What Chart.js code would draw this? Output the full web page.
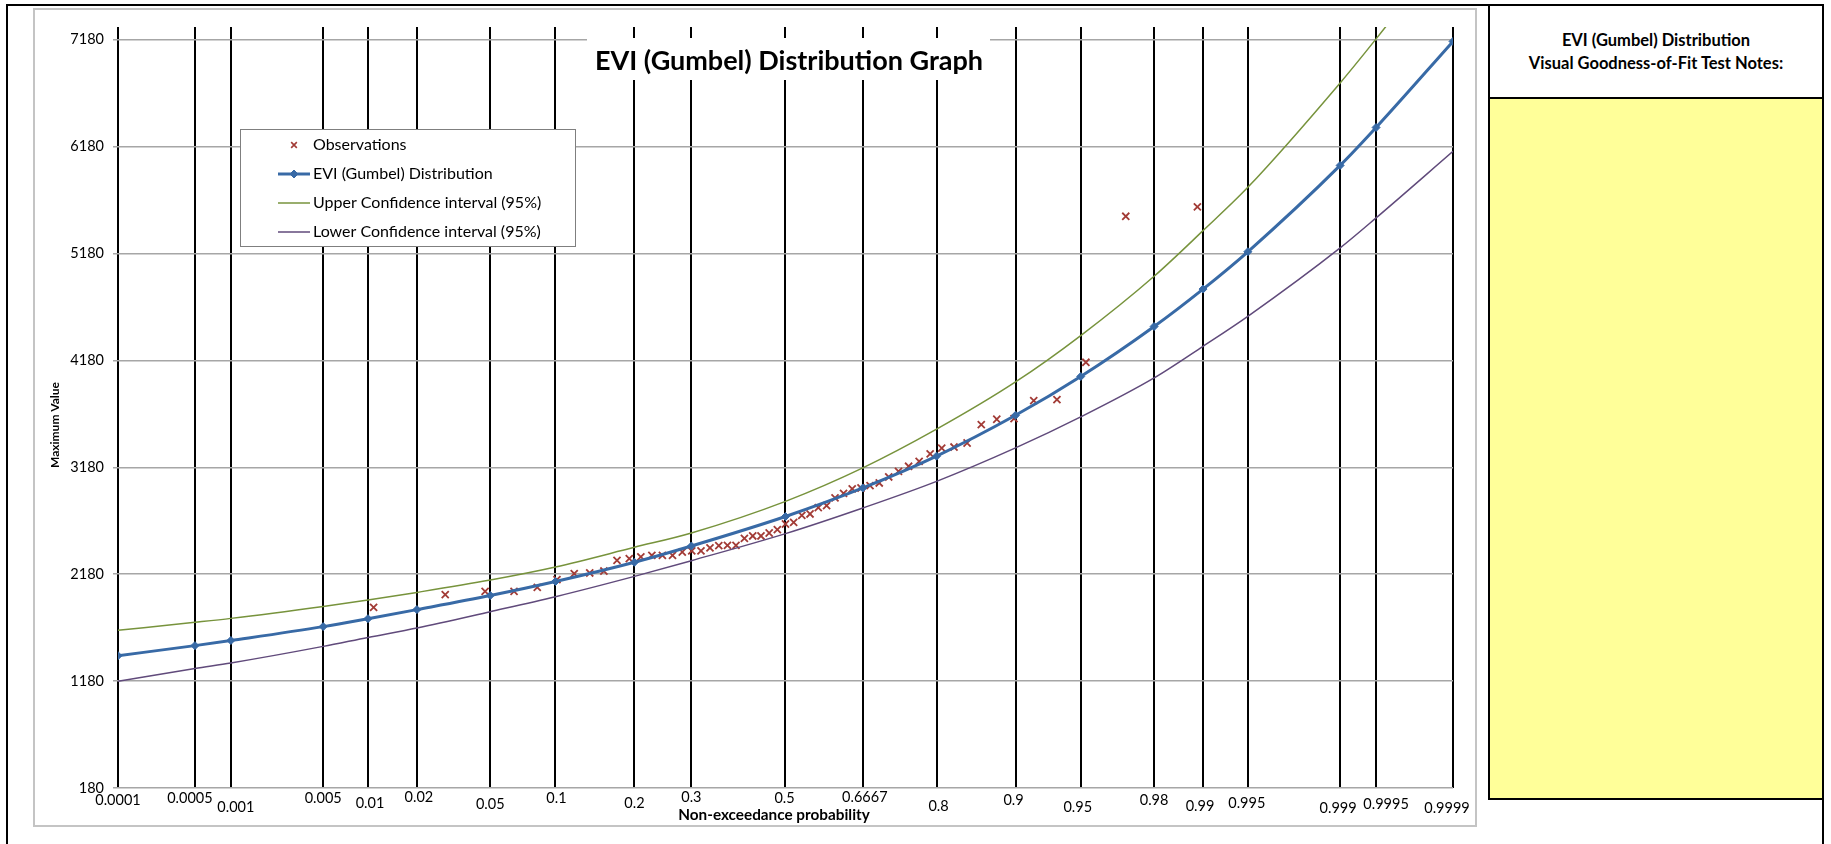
<!DOCTYPE html>
<html>
<head>
<meta charset="utf-8">
<script src="https://cdn.jsdelivr.net/npm/chart.js@4.4.1/dist/chart.umd.min.js"></script>
<style>
  html, body { margin: 0; padding: 0; background: #fff; }
  #page { position: relative; width: 1831px; height: 844px; overflow: hidden; font-family: Lato, 'Open Sans', sans-serif; }
  #frame { position: absolute; left: 6px; top: 4px; width: 1818px; height: 900px; border: 2px solid #000; box-sizing: border-box; }
  #plotBorder { position: absolute; left: 33px; top: 8px; width: 1444px; height: 819px; border: 2px solid #c4c4c4; box-sizing: border-box; }
  #notes { position: absolute; left: 1488px; top: 4px; width: 336px; height: 796px; border: 2px solid #000; box-sizing: border-box; background: #ffff99; }
  #notesHead { height: 91px; border-bottom: 2px solid #000; background: #fff; display: flex; flex-direction: column; justify-content: center; align-items: center; font-weight: bold; font-size: 16.5px; line-height: 23px; color: #000; }
  #chart { position: absolute; left: 0; top: 0; }
</style>
</head>
<body>
<div id="page">
  <div id="frame"></div>
  <div id="plotBorder"></div>
  <div id="notes">
    <div id="notesHead">
      <div>EVI (Gumbel) Distribution</div>
      <div>Visual Goodness-of-Fit Test Notes:</div>
    </div>
  </div>
  <canvas id="chart" width="1831" height="844"></canvas>
</div>
<script>
// probabilidades do eixo x (escala normal)
const probTicks = [0.0001, 0.0005, 0.001, 0.005, 0.01, 0.02, 0.05, 0.1, 0.2, 0.3, 0.5, 0.6667, 0.8, 0.9, 0.95, 0.98, 0.99, 0.995, 0.999, 0.9995, 0.9999];
const probLabels = ['0.0001', '0.0005', '0.001', '0.005', '0.01', '0.02', '0.05', '0.1', '0.2', '0.3', '0.5', '0.6667', '0.8', '0.9', '0.95', '0.98', '0.99', '0.995', '0.999', '0.9995', '0.9999'];
const yTicks = [180, 1180, 2180, 3180, 4180, 5180, 6180, 7180];

// distribuição ajustada e intervalos de confiança
const gumbelValues = [1418, 1512, 1560, 1690, 1764, 1849, 1981, 2112, 2292, 2444, 2720, 2987, 3285, 3667, 4030, 4498, 4848, 5197, 6005, 6360, 7165];
const upperCI = [1655, 1730, 1767, 1879, 1939, 2010, 2126, 2248, 2432, 2566, 2862, 3175, 3537, 3979, 4413, 4968, 5395, 5800, 6777, 7189, 8110];
const lowerCI = [1178, 1299, 1350, 1505, 1589, 1677, 1830, 1970, 2160, 2307, 2560, 2800, 3049, 3362, 3652, 4017, 4313, 4593, 5233, 5514, 6137];

// observações
const obsProb = [0.01087, 0.02899, 0.04710, 0.06522, 0.08333, 0.10145, 0.11957, 0.13768, 0.15580, 0.17391,
  0.19203, 0.21014, 0.22826, 0.24638, 0.26449, 0.28261, 0.30072, 0.31884, 0.33696, 0.35507,
  0.37319, 0.39130, 0.40942, 0.42754, 0.44565, 0.46377, 0.48188, 0.50000, 0.51812, 0.53623,
  0.55435, 0.57246, 0.59058, 0.60870, 0.62681, 0.64493, 0.66304, 0.68116, 0.69928, 0.71739,
  0.73551, 0.75362, 0.77174, 0.78986, 0.80797, 0.82609, 0.84420, 0.86232, 0.88043, 0.89855,
  0.91667, 0.93478, 0.95290, 0.97101, 0.98913];
const obsValues = [1870, 1989, 2020, 2020, 2057, 2129, 2185, 2192, 2210, 2310,
  2326, 2342, 2357, 2357, 2357, 2388, 2398, 2398, 2426, 2447,
  2450, 2450, 2516, 2538, 2538, 2566, 2597, 2650, 2665, 2731,
  2744, 2803, 2822, 2894, 2937, 2978, 2987, 3009, 3034, 3090,
  3143, 3190, 3236, 3306, 3360, 3370, 3408, 3580, 3630, 3636,
  3804, 3814, 4163, 5529, 5617];

const RED = '#a23b36';
const BLUE = '#386aa6';
const GREEN = '#77933c';
const PURPLE = '#604a7b';

// quantil da normal padrão (Acklam) - transforma probabilidade em posição no eixo
function probit(p) {
    const a = [-3.969683028665376e+01, 2.209460984245205e+02, -2.759285104469687e+02, 1.383577518672690e+02, -3.066479806614716e+01, 2.506628277459239e+00];
    const b = [-5.447609879822406e+01, 1.615858368580409e+02, -1.556989798598866e+02, 6.680131188771972e+01, -1.328068155288572e+01];
    const c = [-7.784894002430293e-03, -3.223964580411365e-01, -2.400758277161838e+00, -2.549732539343734e+00, 4.374664141464968e+00, 2.938163982698783e+00];
    const d = [7.784695709041462e-03, 3.224671290700398e-01, 2.445134137142996e+00, 3.754408661907416e+00];
    const pl = 0.02425;
    if (p < pl) {
        const q = Math.sqrt(-2 * Math.log(p));
        return (((((c[0] * q + c[1]) * q + c[2]) * q + c[3]) * q + c[4]) * q + c[5]) / ((((d[0] * q + d[1]) * q + d[2]) * q + d[3]) * q + 1);
    }
    if (p > 1 - pl) {
        const q = Math.sqrt(-2 * Math.log(1 - p));
        return -(((((c[0] * q + c[1]) * q + c[2]) * q + c[3]) * q + c[4]) * q + c[5]) / ((((d[0] * q + d[1]) * q + d[2]) * q + d[3]) * q + 1);
    }
    const q = p - 0.5, r = q * q;
    return (((((a[0] * r + a[1]) * r + a[2]) * r + a[3]) * r + a[4]) * r + a[5]) * q / (((((b[0] * r + b[1]) * r + b[2]) * r + b[3]) * r + b[4]) * r + 1);
}

function toPoints(probs, values) {
    return probs.map((p, i) => ({ x: probit(p), y: values[i] }));
}

// rótulos do eixo x ficam desencontrados como no Excel
const labelRow = [800, 798, 807, 798, 803, 797, 804, 798, 803, 797, 798, 797, 806, 800, 807, 800, 806, 803, 808, 804, 808];
const labelNudge = [0, -5, 5, 0, 2, 2, 0, 1, 0, 0, -1, 2, 2, -2, -3, 0, -3, -1, -2, 10, -6];

const decor = {
    id: 'decor',
    afterDraw(chart) {
        const ctx = chart.ctx;
        const xs = chart.scales.x;
        ctx.save();

        // rótulos de probabilidade
        ctx.fillStyle = '#000';
        ctx.textAlign = 'center';
        ctx.textBaseline = 'middle';
        ctx.font = '14.5px Lato';
        probTicks.forEach((p, i) => {
            ctx.fillText(probLabels[i], xs.getPixelForValue(probit(p)) + labelNudge[i], labelRow[i]);
        });

        // títulos dos eixos
        ctx.font = 'bold 15.3px Lato';
        ctx.fillText('Non-exceedance probability', 774, 815);
        ctx.save();
        ctx.translate(55, 425);
        ctx.rotate(-Math.PI / 2);
        ctx.font = 'bold 12px Lato';
        ctx.fillText('Maximum Value', 0, 0);
        ctx.restore();

        // título do gráfico
        ctx.fillStyle = '#fff';
        ctx.fillRect(587, 38, 403, 42);
        ctx.fillStyle = '#000';
        ctx.font = 'bold 27px Lato';
        ctx.fillText('EVI (Gumbel) Distribution Graph', 789, 61);

        // legenda
        ctx.fillStyle = '#fff';
        ctx.fillRect(240.5, 129.5, 335, 117);
        ctx.strokeStyle = '#7f7f7f';
        ctx.lineWidth = 1;
        ctx.strokeRect(240.5, 129.5, 335, 117);
        const rows = [145, 174, 203, 232];
        ctx.textAlign = 'left';
        ctx.font = '16px Lato';
        chart.data.datasets.forEach((ds, i) => {
            const y = rows[i];
            ctx.strokeStyle = ds.borderColor;
            ctx.fillStyle = ds.borderColor;
            if (i === 0) {
                ctx.lineWidth = 1.6;
                Chart.helpers.drawPoint(ctx, { pointStyle: 'crossRot', radius: 4, borderWidth: 1.6, rotation: 0 }, 294, y);
            } else {
                ctx.lineWidth = ds.borderWidth;
                ctx.beginPath();
                ctx.moveTo(278, y);
                ctx.lineTo(310, y);
                ctx.stroke();
                if (i === 1) {
                    ctx.lineWidth = 1;
                    Chart.helpers.drawPoint(ctx, { pointStyle: 'rectRot', radius: 4, borderWidth: 1, rotation: 0 }, 294, y);
                }
            }
            ctx.fillStyle = '#000';
            ctx.fillText(ds.label, 313, y);
        });
        ctx.restore();
    }
};

const ctx = document.getElementById('chart').getContext('2d');

new Chart(ctx, {
    type: 'line',
    data: {
        datasets: [{
            label: 'Observations',
            data: toPoints(obsProb, obsValues),
            showLine: false,
            borderColor: RED,
            backgroundColor: RED,
            pointStyle: 'crossRot',
            pointRadius: 5,
            pointBorderWidth: 1.8,
            order: 4
        }, {
            label: 'EVI (Gumbel) Distribution',
            data: toPoints(probTicks, gumbelValues),
            borderColor: BLUE,
            backgroundColor: BLUE,
            borderWidth: 3,
            pointStyle: 'rectRot',
            pointRadius: 4,
            pointBorderWidth: 1,
            cubicInterpolationMode: 'monotone',
            order: 1
        }, {
            label: 'Upper Confidence interval (95%)',
            data: toPoints(probTicks, upperCI),
            borderColor: GREEN,
            borderWidth: 1.5,
            pointRadius: 0,
            cubicInterpolationMode: 'monotone',
            order: 2
        }, {
            label: 'Lower Confidence interval (95%)',
            data: toPoints(probTicks, lowerCI),
            borderColor: PURPLE,
            borderWidth: 1.5,
            pointRadius: 0,
            cubicInterpolationMode: 'monotone',
            order: 3
        }]
    },
    options: {
        responsive: false,
        animation: false,
        events: [],
        layout: { padding: { left: 34, top: 27, right: 378, bottom: 18 } },
        plugins: {
            legend: { display: false },
            tooltip: { enabled: false },
            title: { display: false }
        },
        scales: {
            x: {
                type: 'linear',
                min: probit(probTicks[0]),
                max: probit(probTicks[probTicks.length - 1]),
                afterBuildTicks: (s) => { s.ticks = probTicks.map(p => ({ value: probit(p) })); },
                afterFit: (s) => { s.height = 38; },
                grid: { color: '#000', lineWidth: 2, drawTicks: false },
                border: { display: false },
                ticks: { display: false }
            },
            y: {
                min: 180,
                max: 7300,
                afterBuildTicks: (s) => { s.ticks = yTicks.map(v => ({ value: v })); },
                afterFit: (s) => { s.width = 84; },
                grid: { color: '#a6a6a6', lineWidth: 1.5, tickLength: 5 },
                border: { display: false },
                ticks: {
                    color: '#000',
                    font: { family: 'Lato', size: 14.5 },
                    padding: 9,
                    callback: (v) => String(v)
                }
            }
        }
    },
    plugins: [decor]
});
</script>
</body>
</html>
